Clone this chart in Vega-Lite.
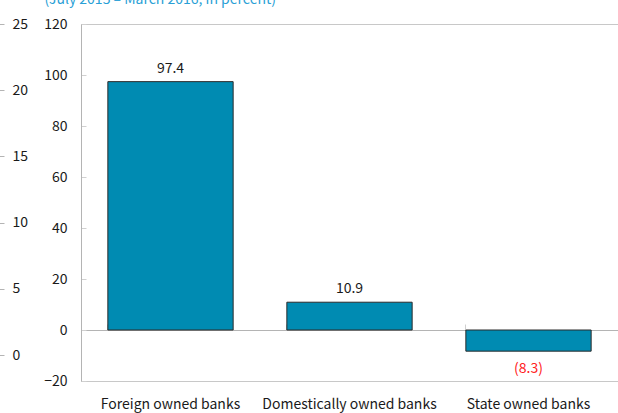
{
  "$schema": "https://vega.github.io/schema/vega-lite/v6.json",
  "autosize": "none",
  "width": 537,
  "height": 357,
  "padding": {"left": 81, "top": 24, "right": 0, "bottom": 32},
  "background": "white",
  "config": {
    "font": "Noto Sans CJK KR",
    "view": {"stroke": "#c8c8c8", "strokeWidth": 1}
  },
  "title": {
    "text": "(July 2015 – March 2016, in percent)",
    "anchor": "start",
    "dx": 46,
    "offset": 10,
    "color": "#2a9fd6",
    "fontSize": 14,
    "fontWeight": "normal",
    "font": "Noto Sans CJK KR"
  },
  "data": {
    "values": [
      {"category": "Foreign owned banks", "value": 97.4, "label": "97.4"},
      {"category": "Domestically owned banks", "value": 10.9, "label": "10.9"},
      {"category": "State owned banks", "value": -8.3, "label": "(8.3)"}
    ]
  },
  "resolve": {"scale": {"y": "independent"}, "axis": {"x": "independent", "y": "independent"}},
  "layer": [
    {
      "resolve": {"axis": {"x": "independent"}},
      "layer": [
        {
          "mark": {"type": "bar", "color": "#008bb2", "stroke": "#2b2b2b", "strokeWidth": 1},
          "encoding": {
            "x": {
              "field": "category",
              "type": "nominal",
              "sort": null,
              "scale": {"paddingInner": 0.3, "paddingOuter": 0.15},
              "axis": {
                "orient": "bottom",
                "title": null,
                "domain": false,
                "ticks": false,
                "labelAngle": 0,
                "labelPadding": 16,
                "labelFontSize": 14,
                "labelColor": "#1a1a1a"
              }
            },
            "y": {
              "field": "value",
              "type": "quantitative",
              "scale": {"domain": [-20, 120], "nice": false},
              "axis": {
                "title": null,
                "values": [-20, 0, 20, 40, 60, 80, 100, 120],
                "grid": false,
                "domainColor": "#b4b4b4",
                "tickColor": "#d0d0d0",
                "tickSize": -5,
                "labelPadding": 19,
                "labelFontSize": 14,
                "labelColor": "#1a1a1a"
              }
            }
          }
        },
        {
          "transform": [{"filter": "datum.value >= 0"}],
          "mark": {"type": "text", "baseline": "bottom", "dy": -6, "fontSize": 14, "color": "#1a1a1a"},
          "encoding": {
            "x": {"field": "category", "type": "nominal", "sort": null, "axis": null},
            "y": {"field": "value", "type": "quantitative"},
            "text": {"field": "label"}
          }
        },
        {
          "transform": [{"filter": "datum.value < 0"}],
          "mark": {"type": "text", "baseline": "top", "dy": 11, "fontSize": 14, "color": "#ff2020"},
          "encoding": {
            "x": {"field": "category", "type": "nominal", "sort": null, "axis": null},
            "y": {"field": "value", "type": "quantitative"},
            "text": {"field": "label"}
          }
        },
        {
          "mark": {"type": "point", "opacity": 0},
          "encoding": {
            "x": {
              "field": "category",
              "type": "nominal",
              "sort": null,
              "axis": {
                "orient": "bottom",
                "offset": -51,
                "title": null,
                "labels": false,
                "bandPosition": 0,
                "domainColor": "#b4b4b4",
                "tickColor": "#d0d0d0",
                "tickSize": -6
              }
            },
            "y": {"field": "value", "type": "quantitative"}
          }
        }
      ]
    },
    {
      "mark": {"type": "point", "opacity": 0, "size": 1},
      "encoding": {
        "x": {"field": "category", "type": "nominal", "sort": null, "axis": null},
        "y": {
          "field": "value",
          "type": "quantitative",
          "scale": {"domain": [-1.96, 25], "nice": false, "zero": false, "clamp": true},
          "axis": {
            "orient": "right",
            "offset": -619,
            "title": null,
            "values": [0, 5, 10, 15, 20, 25],
            "grid": false,
            "domain": false,
            "tickColor": "#b4b4b4",
            "tickSize": 5,
            "labelPadding": 8,
            "labelFontSize": 14,
            "labelColor": "#1a1a1a"
          }
        }
      }
    }
  ]
}
